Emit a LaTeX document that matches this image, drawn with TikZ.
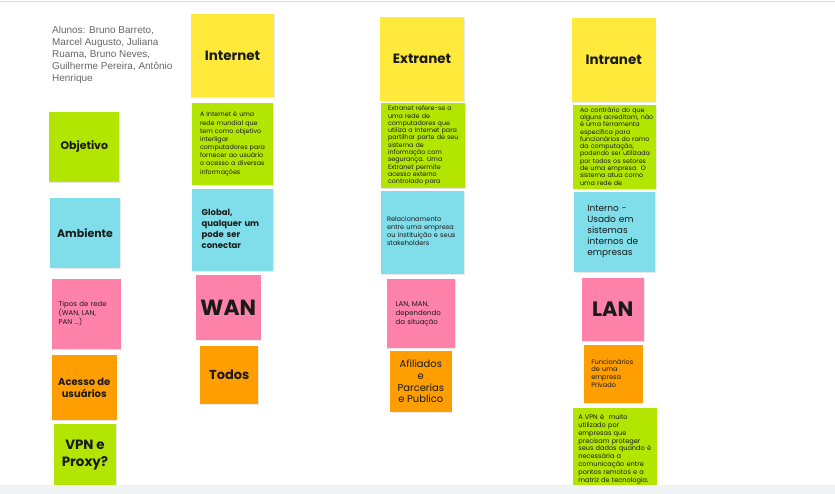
\documentclass[tikz,border=0pt]{standalone}
\usepackage{fontspec}
\setmainfont{Poppins}
\newfontfamily\alfont{Liberation Sans}
\usetikzlibrary{shadows}
\definecolor{cyel}{HTML}{FFE93B}
\definecolor{cgrn}{HTML}{B2E600}
\definecolor{ccya}{HTML}{80DEEA}
\definecolor{cpnk}{HTML}{FF82AB}
\definecolor{corg}{HTML}{FF9E00}
\definecolor{ctxt}{HTML}{1A1A1A}
\definecolor{cgray}{HTML}{666666}
\definecolor{cband}{HTML}{F1F2F4}
\definecolor{cline}{HTML}{DCDCDE}
\newcommand\tl[1]{\begin{tabular}{@{}l@{}}#1\end{tabular}}
\newcommand\fs[2]{\fontsize{#1}{#2}\selectfont}
\begin{document}
\begin{tikzpicture}[x=1bp,y=-1bp,
  note/.style={inner sep=0pt, text=ctxt, align=center,
    drop shadow={shadow xshift=0.6bp, shadow yshift=-1bp, opacity=0.18}},
  sz/.style 2 args={minimum width=#1bp, minimum height=#2bp},
  head/.style={font=\fs{13.5}{16}\bfseries},
  side/.style={font=\fs{11}{13}\bfseries},
  small/.style={align=left, font=\fs{6.4}{8.2}},
]
\useasboundingbox (0,0) rectangle (835,494);
\fill[white] (0,0) rectangle (835,494);
\draw[cline, line width=1.5bp] (0,1.5) -- (835,1.5);

% students
\node[anchor=north west, inner sep=0pt, align=left, text=cgray,
  font=\alfont\fs{10}{12.1}] (alunos) at (52,26)
  {Alunos: Bruno Barreto,\\Marcel Augusto, Juliana\\Ruama, Bruno Neves,\\Guilherme Pereira, Antônio\\Henrique};

% left column
\node[note, fill=cgrn, sz={70}{70}, side] (objetivo) at (84.3,146.7) {Objetivo};
\node[note, fill=ccya, sz={70}{70}, side] (ambiente) at (85,233) {Ambiente};
\node[note, fill=cpnk, sz={69}{69.7}, small, text width=55bp, font=\fs{7}{9.3}] (tipos) at (86.2,313.8)
  {\tl{Tipos de rede\\(WAN, LAN,\\PAN ...)}};
\node[note, fill=corg, sz={65}{65}, font=\fs{10}{12}\bfseries] (acesso) at (84.2,387.5)
  {Acesso de\\usuários};
\node[note, fill=cgrn, sz={62}{62}, font=\fs{13.5}{16.5}\bfseries] (vpnq) at (85,455)
  {VPN e\\Proxy?};

% Internet column
\node[note, fill=cyel, sz={83.6}{83.3}, head] (internet) at (232.5,55.7) {Internet};
\node[note, fill=cgrn, sz={81}{82.3}, small, text width=65bp] (intdesc) at (232.5,143.8)
  {\tl{A Internet é uma\\rede mundial que\\tem como objetivo\\interligar\\computadores para\\fornecer ao usuário\\o acesso a diversas\\informações}};
\node[note, fill=ccya, sz={81.6}{81.7}, align=left, text width=61.6bp, font=\fs{8.5}{10.9}\bfseries] (intamb) at (232.5,229.8)
  {\tl{Global,\\qualquer um\\pode ser\\conectar}};
\node[note, fill=cpnk, sz={64.7}{64.7}, font=\fs{22}{24}\bfseries] (wan) at (228.3,307.7) {WAN};
\node[note, fill=corg, sz={58.3}{58.3}, font=\fs{13}{15}\bfseries] (todos) at (229.2,374.8) {Todos};

% Extranet column
\node[note, fill=cyel, sz={84}{84}, head] (extranet) at (422,58.7) {Extranet};
\node[note, fill=cgrn, sz={84}{85}, small, text width=70bp, font=\fs{6.4}{7.3}] (extdesc) at (423,145.8)
  {\tl{Extranet refere-se a\\uma rede de\\computadores que\\utiliza a Internet para\\partilhar parte de seu\\sistema de\\informação com\\segurança. Uma\\Extranet permite\\acesso externo\\controlado para}};
\node[note, fill=ccya, sz={83.3}{83.3}, small, text width=71.3bp, font=\fs{6.6}{8}] (extamb) at (422.7,232.3)
  {\tl{Relacionamento\\entre uma empresa\\ou instituição e seus\\stakeholders}};
\node[note, fill=cpnk, sz={68.3}{69.3}, small, text width=50.3bp, font=\fs{7}{9}] (exttipo) at (420.8,313.7)
  {\tl{LAN, MAN,\\dependendo\\da situação}};
\node[note, fill=corg, sz={61.7}{61.7}, font=\fs{10}{11.7}] (afil) at (420.8,381.5)
  {Afiliados\\e\\Parcerias\\e Publico};

% Intranet column
\node[note, fill=cyel, sz={84}{84}, head] (intranet) at (613.7,59.7) {Intranet};
\node[note, fill=cgrn, sz={82.7}{84.3}, small, text width=69.3bp, font=\fs{6.4}{7.35}] (itrdesc) at (614.7,147.2)
  {\tl{Ao contrário do que\\alguns acreditam, não\\é uma ferramenta\\específica para\\funcionários do ramo\\da computação,\\podendo ser utilizada\\por todos os setores\\de uma empresa. O\\sistema atua como\\uma rede de}};
\node[note, fill=ccya, sz={80.7}{80}, align=left, text width=54.7bp, font=\fs{9}{11}] (itramb) at (614.7,231.7)
  {\tl{Interno -\\Usado em\\sistemas\\internos de\\empresas}};
\node[note, fill=cpnk, sz={62.3}{63}, font=\fs{21}{23}\bfseries] (lan) at (612.8,309.2) {LAN};
\node[note, fill=corg, sz={58.3}{58.3}, small, text width=44.3bp, font=\fs{6.6}{7.7}] (func) at (613.5,374.2)
  {\tl{Funcionários\\de uma\\empresa\\Privado}};
\node[note, fill=cgrn, sz={83.3}{83.3}, small, text width=73.3bp, font=\fs{6.6}{7.8}] (vpnd) at (615,449.4)
  {\tl{A VPN é \ muito\\utilizado por\\empresas que\\precisam proteger\\seus dados quando é\\necessária a\\comunicação entre\\pontos remotos e a\\matriz de tecnologia.}};

% bottom band
\fill[cband] (0,485) rectangle (835,494);
\end{tikzpicture}
\end{document}
